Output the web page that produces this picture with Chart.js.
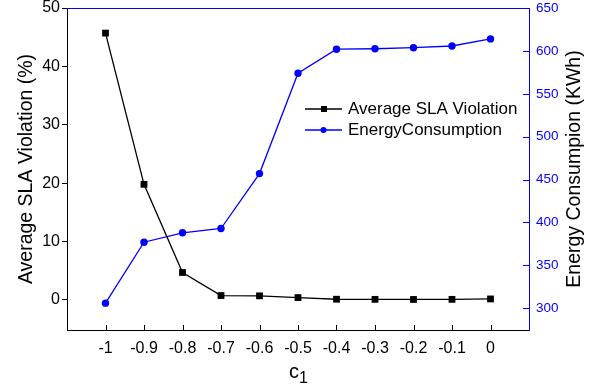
<!DOCTYPE html>
<html>
<head>
<meta charset="utf-8">
<script src="https://cdn.jsdelivr.net/npm/chart.js@4.4.0/dist/chart.umd.min.js"></script>
<style>
  html, body { margin: 0; padding: 0; background: #fff; }
  #wrap { width: 596px; height: 387px; }
</style>
</head>
<body>
<div id="wrap"><canvas id="chart" width="596" height="387"></canvas></div>
<script>
// values
const c1Values = [-1, -0.9, -0.8, -0.7, -0.6, -0.5, -0.4, -0.3, -0.2, -0.1, 0];
const slaViolation = [45.7, 19.8, 4.7, 0.75, 0.7, 0.4, 0.12, 0.1, 0.08, 0.1, 0.17];
const energyConsumption = [306, 377, 388, 393, 457, 574, 602, 602.5, 603.7, 605.7, 614];

const xTickValues = [-1, -0.9, -0.8, -0.7, -0.6, -0.5, -0.4, -0.3, -0.2, -0.1, 0];
const xTickLabels = ['-1', '-0.9', '-0.8', '-0.7', '-0.6', '-0.5', '-0.4', '-0.3', '-0.2', '-0.1', '0'];
const slaTicks = [0, 10, 20, 30, 40, 50];
const energyTicks = [300, 350, 400, 450, 500, 550, 600, 650];

const BLUE = '#0000FF';
const FONT = 'Arial, "Liberation Sans", sans-serif';

const toPoints = ys => c1Values.map((x, i) => ({ x: x, y: ys[i] }));

// inside ticks, top frame, right title (reads upwards), c1 label and the in-plot legend
const framePlugin = {
    id: 'frame',
    afterDraw(chart) {
        const ctx = chart.ctx;
        const a = chart.chartArea;
        const xs = chart.scales.x;
        const yr = chart.scales.y1;
        ctx.save();
        ctx.lineWidth = 1;

        ctx.strokeStyle = BLUE;
        ctx.beginPath();
        ctx.moveTo(a.left, a.top + 0.5);
        ctx.lineTo(a.right, a.top + 0.5);
        ctx.stroke();

        ctx.strokeStyle = '#000';
        xTickValues.forEach(v => {
            const px = Math.round(xs.getPixelForValue(v)) + 0.5;
            ctx.beginPath();
            ctx.moveTo(px, a.bottom);
            ctx.lineTo(px, a.bottom - 5);
            ctx.stroke();
        });

        ctx.strokeStyle = BLUE;
        energyTicks.forEach(v => {
            const py = Math.round(yr.getPixelForValue(v)) + 0.5;
            ctx.beginPath();
            ctx.moveTo(a.right, py);
            ctx.lineTo(a.right - 6, py);
            ctx.stroke();
        });

        // right axis title
        ctx.save();
        ctx.translate(575, (a.top + a.bottom) / 2);
        ctx.rotate(-Math.PI / 2);
        ctx.fillStyle = '#000';
        ctx.font = '19.5px ' + FONT;
        ctx.textAlign = 'center';
        ctx.textBaseline = 'middle';
        ctx.fillText('Energy Consumpion (KWh)', 0, 0);
        ctx.restore();

        // x axis title with subscript
        ctx.fillStyle = '#000';
        ctx.textBaseline = 'alphabetic';
        ctx.textAlign = 'left';
        ctx.font = '20px ' + FONT;
        const cx = (a.left + a.right) / 2 - 9;
        ctx.fillText('c', cx, 378);
        const cw = ctx.measureText('c').width;
        ctx.font = '16px ' + FONT;
        ctx.fillText('1', cx + cw, 383);

        // legend
        const lx = 305, ly = 109, gap = 21;
        ctx.font = '17px ' + FONT;
        ctx.textBaseline = 'middle';
        chart.data.datasets.forEach((ds, i) => {
            const y = ly + i * gap;
            ctx.strokeStyle = ds.borderColor;
            ctx.lineWidth = 1.3;
            ctx.beginPath();
            ctx.moveTo(lx, y);
            ctx.lineTo(lx + 37, y);
            ctx.stroke();
            ctx.fillStyle = ds.pointBackgroundColor;
            if (ds.pointStyle === 'rect') {
                ctx.fillRect(lx + 16, y - 3, 6, 6);
            } else {
                ctx.beginPath();
                ctx.arc(lx + 18.5, y, 3, 0, Math.PI * 2);
                ctx.fill();
            }
            ctx.fillStyle = '#000';
            ctx.fillText(ds.label, lx + 43, y);
        });
        ctx.restore();
    }
};

new Chart(document.getElementById('chart'), {
    type: 'line',
    data: {
        datasets: [{
            label: 'Average SLA Violation',
            data: toPoints(slaViolation),
            yAxisID: 'y',
            borderColor: '#000',
            backgroundColor: '#000',
            pointBackgroundColor: '#000',
            pointBorderColor: '#000',
            pointStyle: 'rect',
            pointRadius: 4.8,
            pointBorderWidth: 0,
            borderWidth: 1.3,
            tension: 0
        }, {
            label: 'EnergyConsumption',
            data: toPoints(energyConsumption),
            yAxisID: 'y1',
            borderColor: BLUE,
            backgroundColor: BLUE,
            pointBackgroundColor: BLUE,
            pointBorderColor: BLUE,
            pointStyle: 'circle',
            pointRadius: 3.7,
            pointBorderWidth: 0,
            borderWidth: 1.3,
            tension: 0
        }]
    },
    options: {
        responsive: false,
        animation: false,
        layout: { padding: { top: 8, left: 0, right: 0, bottom: 0 } },
        plugins: {
            legend: { display: false },
            tooltip: { enabled: false }
        },
        scales: {
            x: {
                type: 'linear',
                min: -1.1,
                max: 0.1,
                afterBuildTicks: s => { s.ticks = xTickValues.map(v => ({ value: v })); },
                afterFit: s => { s.height = 57; s.paddingLeft = 0; s.paddingRight = 0; },
                grid: { display: false, drawTicks: false },
                border: { display: true, color: '#000', width: 1 },
                ticks: {
                    color: '#000',
                    font: { family: FONT, size: 16 },
                    padding: 9,
                    maxRotation: 0,
                    autoSkip: false,
                    callback: (v, i) => xTickLabels[i]
                },
                title: { display: false }
            },
            y: {
                position: 'left',
                min: -5.15,
                max: 50,
                afterBuildTicks: s => { s.ticks = slaTicks.map(v => ({ value: v })); },
                afterFit: s => { s.width = 67; s.paddingTop = 0; s.paddingBottom = 0; },
                grid: { display: true, drawOnChartArea: false, tickLength: 5, color: '#000' },
                border: { display: true, color: '#000', width: 1 },
                ticks: {
                    color: '#000',
                    font: { family: FONT, size: 16 },
                    padding: 2
                },
                title: {
                    display: true,
                    text: 'Average SLA Violation (%)',
                    color: '#000',
                    font: { family: FONT, size: 19.5 },
                    padding: { top: 15, bottom: 0 }
                }
            },
            y1: {
                position: 'right',
                min: 274.7,
                max: 650,
                afterBuildTicks: s => { s.ticks = energyTicks.map(v => ({ value: v })); },
                afterFit: s => { s.width = 67; s.paddingTop = 0; s.paddingBottom = 0; },
                grid: { display: false, drawTicks: false },
                border: { display: true, color: BLUE, width: 1 },
                ticks: {
                    color: BLUE,
                    font: { family: FONT, size: 13.5 },
                    padding: 7
                }
            }
        }
    },
    plugins: [framePlugin]
});
</script>
</body>
</html>
